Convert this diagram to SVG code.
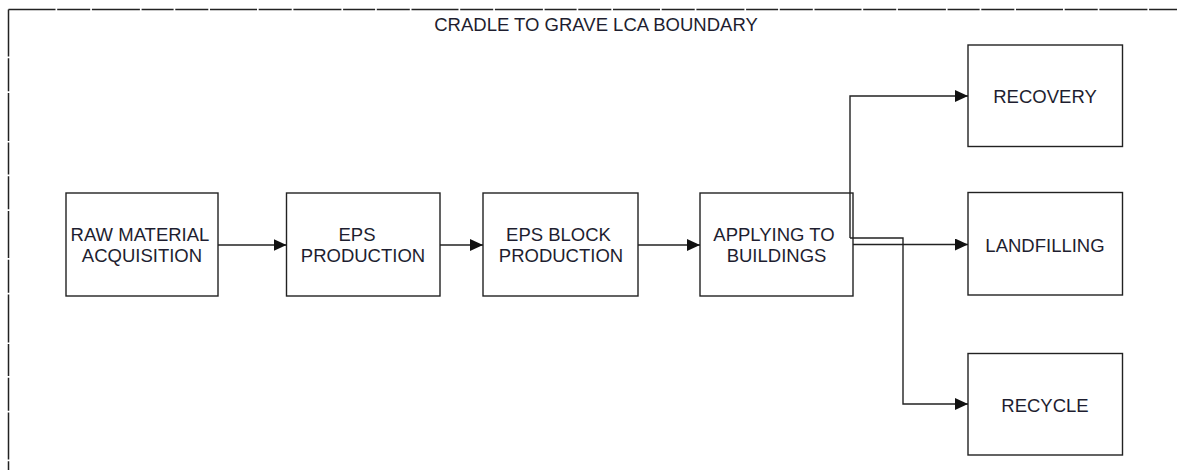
<svg xmlns="http://www.w3.org/2000/svg" width="1177" height="470" viewBox="0 0 1177 470">
<defs>
<style>
.box{fill:#fff;stroke:#222;stroke-width:1.4}
.lbl{font-family:"Liberation Sans",Arial,sans-serif;font-size:18.5px;fill:#1e1e30;text-anchor:middle}
.con{fill:none;stroke:#222;stroke-width:1.4}
.bnd{fill:none;stroke:#222;stroke-width:1.5;stroke-dasharray:47 1.7 33 1.7 48 1.7 32 1.7 33 1.7}
</style>
<marker id="arr" viewBox="0 0 13 12" refX="13" refY="6" markerWidth="13" markerHeight="12" markerUnits="userSpaceOnUse" orient="auto">
<path d="M0,0 L13,6 L0,12 Z" fill="#111"/>
</marker>
</defs>
<rect width="1177" height="470" fill="#fff"/>
<g id="boundary">
<path class="bnd" d="M8.5,9.5 H1177"/>
<path class="bnd" d="M8.5,9.5 V470"/>
<text class="lbl" x="596" y="31">CRADLE TO GRAVE LCA BOUNDARY</text>
</g>
<g id="raw">
<rect class="box" x="66" y="193" width="152" height="103"/>
<text class="lbl" x="140" y="241">RAW MATERIAL</text>
<text class="lbl" x="142" y="262">ACQUISITION</text>
</g>
<g id="eps">
<rect class="box" x="286.5" y="193" width="153.5" height="103"/>
<text class="lbl" x="357" y="241">EPS</text>
<text class="lbl" x="363" y="262">PRODUCTION</text>
</g>
<g id="block">
<rect class="box" x="483" y="193" width="155" height="103"/>
<text class="lbl" x="558.5" y="241">EPS BLOCK</text>
<text class="lbl" x="561" y="262">PRODUCTION</text>
</g>
<g id="apply">
<rect class="box" x="700" y="193" width="153" height="103"/>
<text class="lbl" x="774" y="241">APPLYING TO</text>
<text class="lbl" x="776.5" y="262">BUILDINGS</text>
</g>
<g id="recovery">
<rect class="box" x="968" y="45" width="154.5" height="101.5"/>
<text class="lbl" x="1045" y="103">RECOVERY</text>
</g>
<g id="landfilling">
<rect class="box" x="968" y="192.5" width="154.5" height="102.5"/>
<text class="lbl" x="1045" y="252">LANDFILLING</text>
</g>
<g id="recycle">
<rect class="box" x="968" y="353.5" width="154.5" height="101.5"/>
<text class="lbl" x="1045" y="412">RECYCLE</text>
</g>
<g id="connectors">
<path class="con" d="M218,245 H286.5" marker-end="url(#arr)"/>
<path class="con" d="M440,245 H483" marker-end="url(#arr)"/>
<path class="con" d="M638,245 H700" marker-end="url(#arr)"/>
<path class="con" d="M850,238 V96 H968" marker-end="url(#arr)"/>
<path class="con" d="M853,244.5 H968" marker-end="url(#arr)"/>
<path class="con" d="M850,238 H903 V404 H968" marker-end="url(#arr)"/>
</g>
</svg>
